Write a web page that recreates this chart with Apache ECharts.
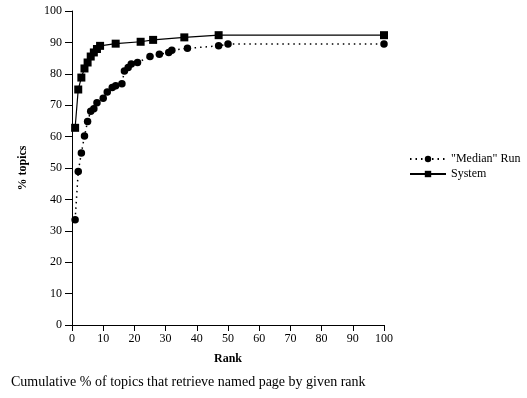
<!DOCTYPE html>
<html>
<head>
<meta charset="utf-8">
<script src="https://cdn.jsdelivr.net/npm/echarts@6/dist/echarts.min.js"></script>
<style>html,body{margin:0;padding:0;background:#fff}#c{width:527px;height:398px}</style>
</head>
<body>
<div id="c"></div>
<script>
const medianRank = [1, 2, 3, 4, 5, 6, 7, 8, 10, 11.3, 12.9, 14, 16, 16.8, 18, 19, 21, 25, 28, 31, 32, 37, 47, 50, 100];
const medianPct  = [33.5, 48.9, 54.8, 60.2, 64.8, 68.1, 68.9, 70.8, 72.2, 74.2, 75.6, 76.2, 76.8, 80.9, 82, 83.1, 83.6, 85.5, 86.2, 86.8, 87.5, 88.1, 88.9, 89.5, 89.5];
const systemRank = [1, 2, 3, 4, 5, 6, 7, 8, 9, 14, 22, 26, 36, 47, 100];
const systemPct  = [62.8, 75.0, 78.8, 81.7, 83.6, 85.5, 86.8, 87.9, 88.9, 89.6, 90.2, 90.8, 91.6, 92.3, 92.3];
const xTicks = [0, 10, 20, 30, 40, 50, 60, 70, 80, 90, 100];
const yTicks = [0, 10, 20, 30, 40, 50, 60, 70, 80, 90, 100];
const seriesNames = ['"Median" Run', 'System'];
const titleText = 'Cumulative % of topics that retrieve named page by given rank';

const font = 'Liberation Serif';
const chart = echarts.init(document.getElementById('c'), null, {renderer: 'canvas'});
const zip = (a, b) => a.map((v, i) => [v, b[i]]);
chart.setOption({
  animation: false,
  backgroundColor: '#fff',
  textStyle: {fontFamily: font, color: '#000'},
  title: {
    text: titleText, left: 6, top: 370,
    textStyle: {fontFamily: font, fontSize: 14, fontWeight: 'normal', color: '#000'}
  },
  legend: {
    orient: 'vertical', left: 404, top: 148, itemWidth: 36, itemHeight: 8, itemGap: 3,
    textStyle: {fontFamily: font, fontSize: 12, color: '#000'},
    data: seriesNames
  },
  grid: {left: 72, right: 143, top: 11, bottom: 73, containLabel: false},
  xAxis: {
    type: 'value', min: xTicks[0], max: xTicks[xTicks.length - 1], interval: 10,
    name: 'Rank', nameLocation: 'middle', nameGap: 28,
    nameTextStyle: {fontFamily: font, fontSize: 12, fontWeight: 'bold', color: '#000'},
    axisLine: {show: true, lineStyle: {color: '#000', width: 1}},
    axisTick: {show: true, length: 6, lineStyle: {color: '#000'}},
    axisLabel: {fontFamily: font, fontSize: 12, color: '#000', margin: 8},
    splitLine: {show: false}
  },
  yAxis: {
    type: 'value', min: yTicks[0], max: yTicks[yTicks.length - 1], interval: 10,
    name: '% topics', nameLocation: 'middle', nameGap: 43, nameRotate: 90,
    nameTextStyle: {fontFamily: font, fontSize: 12, fontWeight: 'bold', color: '#000'},
    axisLine: {show: true, lineStyle: {color: '#000', width: 1}},
    axisTick: {show: true, length: 7, lineStyle: {color: '#000'}},
    axisLabel: {fontFamily: font, fontSize: 12, color: '#000', margin: 10},
    splitLine: {show: false}
  },
  series: [
    {
      name: seriesNames[0], type: 'line', data: zip(medianRank, medianPct),
      symbol: 'circle', symbolSize: 7.5, showSymbol: true,
      itemStyle: {color: '#000'},
      lineStyle: {color: '#000', width: 1.5, type: [1.5, 4]}
    },
    {
      name: seriesNames[1], type: 'line', data: zip(systemRank, systemPct),
      symbol: 'rect', symbolSize: 8, showSymbol: true,
      itemStyle: {color: '#000'},
      lineStyle: {color: '#000', width: 1.2, type: 'solid'}
    }
  ]
});
</script>
</body>
</html>
